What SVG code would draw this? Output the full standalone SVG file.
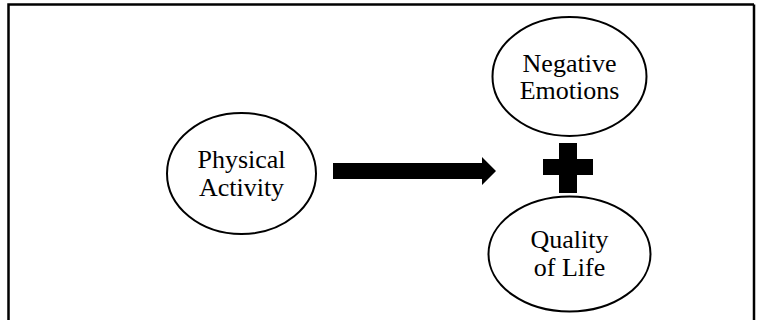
<svg xmlns="http://www.w3.org/2000/svg" width="760" height="320" viewBox="0 0 760 320">
<style>
.node{fill:#fff;stroke:#000;stroke-width:2}
.lbl{font-family:"Liberation Serif","Times New Roman",serif;font-size:26px;fill:#000;text-anchor:middle}
.frame{fill:none;stroke:#000;stroke-width:2.5}
</style>
<rect width="760" height="320" fill="#fff"/>
<path class="frame" d="M8.5 322 V4.5 H754"/>
<line x1="754" y1="4.5" x2="754" y2="322" stroke="#000" stroke-width="2.5"/>
<g id="connectors">
<polygon points="333,163 482,163 482,157 496,171 482,185 482,179 333,179" fill="#000"/>
<path d="M543 159 H559 V143 H577 V159 H593 V175 H577 V193 H559 V175 H543 Z" fill="#000"/>
</g>
<g id="physical-activity">
<ellipse class="node" cx="241.5" cy="173.5" rx="74.5" ry="60.5"/>
<text class="lbl" x="241.5" y="168">Physical</text>
<text class="lbl" x="241.5" y="195.5">Activity</text>
</g>
<g id="negative-emotions">
<ellipse class="node" cx="569.5" cy="76.5" rx="77" ry="59.5"/>
<text class="lbl" x="569.5" y="71.5">Negative</text>
<text class="lbl" x="569.5" y="99">Emotions</text>
</g>
<g id="quality-of-life">
<ellipse class="node" cx="569.5" cy="254" rx="81" ry="57.5"/>
<text class="lbl" x="569.5" y="248">Quality</text>
<text class="lbl" x="569.5" y="275.5">of Life</text>
</g>
</svg>
